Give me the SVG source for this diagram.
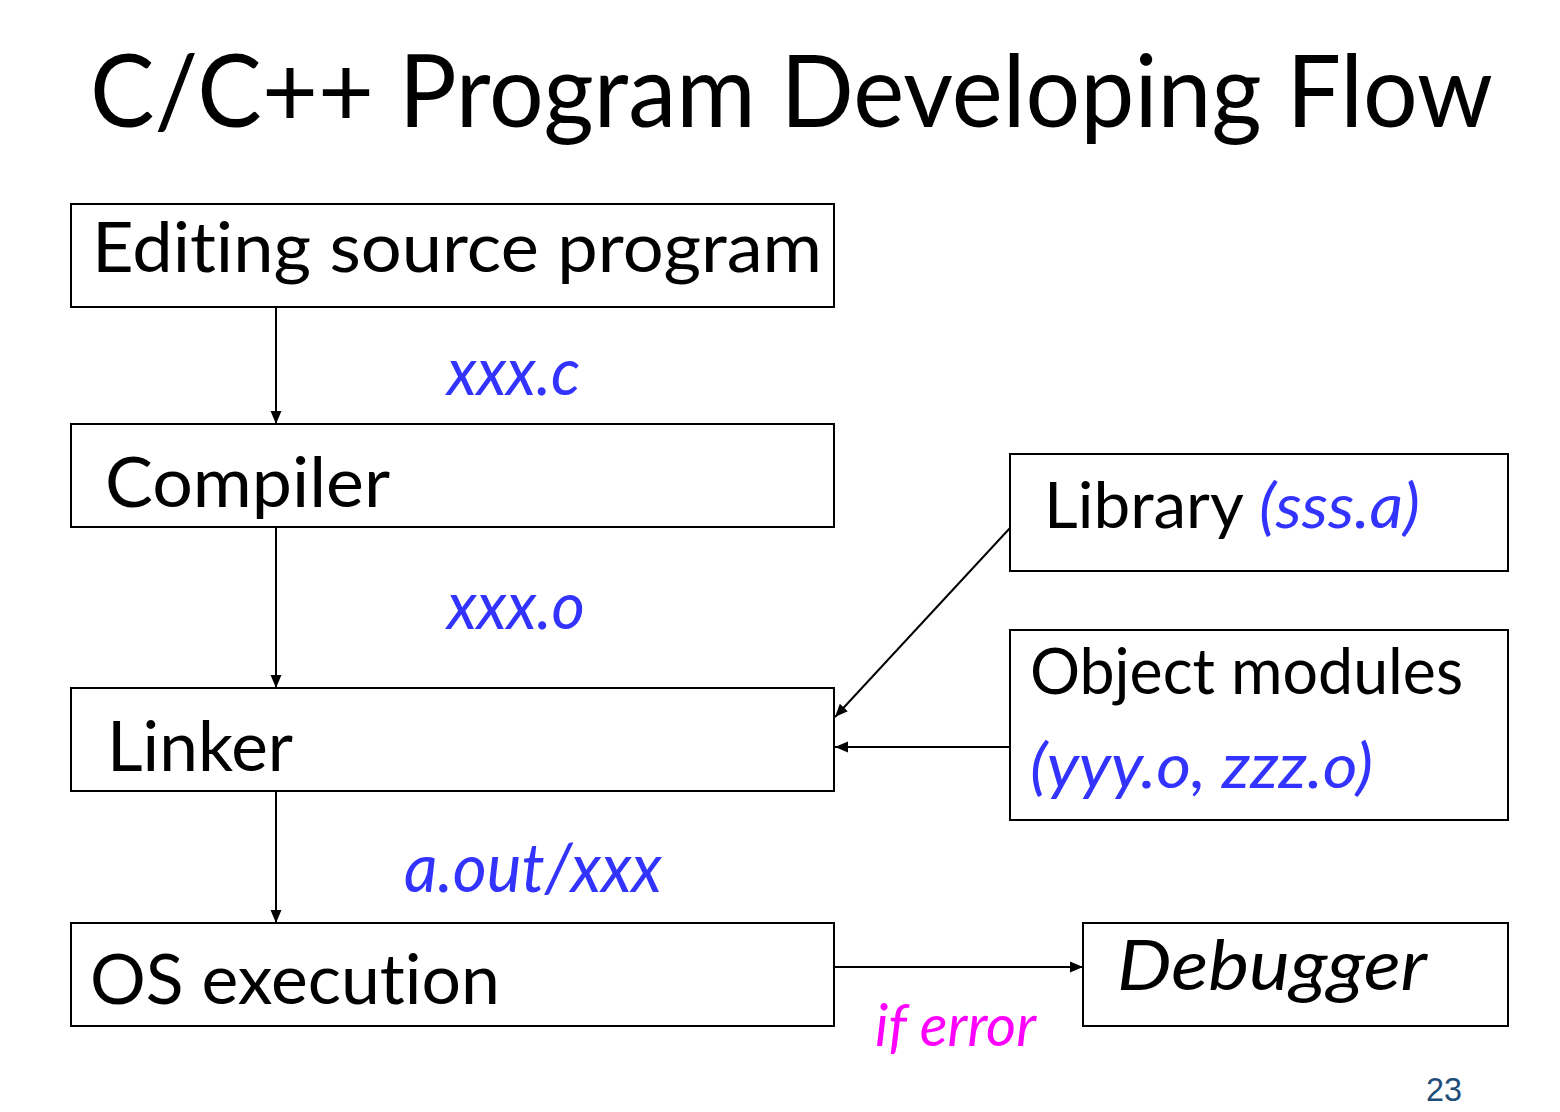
<svg xmlns="http://www.w3.org/2000/svg" width="1560" height="1112" viewBox="0 0 1560 1112">
<style>
text{font-variant-ligatures:none;font-feature-settings:"liga" 0,"clig" 0}
.box{fill:#fff;stroke:#000;stroke-width:2}
.t{font-family:Lato,"Open Sans","Liberation Sans",sans-serif;fill:#000}
.lbl{font-family:Lato,"Open Sans","Liberation Sans",sans-serif;font-style:italic;fill:#3333FF}
.con{stroke:#000;stroke-width:2;fill:none;marker-end:url(#ah)}
</style>
<defs>
<marker id="ah" viewBox="0 0 10 10" refX="10" refY="5" markerWidth="13" markerHeight="13" markerUnits="userSpaceOnUse" orient="auto">
<path d="M0,0.8 L10,5 L0,9.2 Z" fill="#000"/>
</marker>
</defs>
<rect width="1560" height="1112" fill="#fff"/>
<text id="title" class="t" x="90" y="127" font-size="100" textLength="1403" lengthAdjust="spacingAndGlyphs">C/C++ Program Developing Flow</text>
<g id="connectors">
<line class="con" x1="276" y1="307" x2="276" y2="424"/>
<line class="con" x1="276" y1="527" x2="276" y2="688"/>
<line class="con" x1="276" y1="791" x2="276" y2="923"/>
<line class="con" x1="1010" y1="528" x2="835" y2="717"/>
<line class="con" x1="1010" y1="747" x2="835" y2="747"/>
<line class="con" x1="834" y1="967" x2="1083" y2="967"/>
<text class="lbl" x="447" y="395" font-size="66" textLength="133" lengthAdjust="spacingAndGlyphs">xxx.c</text>
<text class="lbl" x="447" y="629" font-size="66" textLength="138" lengthAdjust="spacingAndGlyphs">xxx.o</text>
<text class="lbl" x="404" y="892" font-size="68" textLength="258" lengthAdjust="spacingAndGlyphs">a.out/xxx</text>
<text class="lbl" x="875" y="1046" font-size="58" textLength="161" lengthAdjust="spacingAndGlyphs" style="fill:#FF00FF">if error</text>
</g>
<g id="edit">
<rect class="box" x="71" y="204" width="763" height="103"/>
<text class="t" x="92" y="272" font-size="70" textLength="730" lengthAdjust="spacingAndGlyphs">Editing source program</text>
</g>
<g id="compiler">
<rect class="box" x="71" y="424" width="763" height="103"/>
<text class="t" x="105" y="507" font-size="70" textLength="285" lengthAdjust="spacingAndGlyphs">Compiler</text>
</g>
<g id="linker">
<rect class="box" x="71" y="688" width="763" height="103"/>
<text class="t" x="107" y="771" font-size="70" textLength="186" lengthAdjust="spacingAndGlyphs">Linker</text>
</g>
<g id="os">
<rect class="box" x="71" y="923" width="763" height="103"/>
<text class="t" x="90" y="1004" font-size="70" textLength="410" lengthAdjust="spacingAndGlyphs">OS execution</text>
</g>
<g id="library">
<rect class="box" x="1010" y="454" width="498" height="117"/>
<text class="t" x="1044" y="528" font-size="63" textLength="376" lengthAdjust="spacingAndGlyphs">Library <tspan style="font-style:italic;fill:#3333FF">(sss.a)</tspan></text>
</g>
<g id="objects">
<rect class="box" x="1010" y="630" width="498" height="190"/>
<text class="t" x="1030" y="694" font-size="63" textLength="433" lengthAdjust="spacingAndGlyphs">Object modules</text>
<text class="lbl" x="1030" y="788" font-size="63" textLength="343" lengthAdjust="spacingAndGlyphs">(yyy.o, zzz.o)</text>
</g>
<g id="debugger">
<rect class="box" x="1083" y="923" width="425" height="103"/>
<text class="t" x="1117" y="990" font-size="70" font-style="italic" textLength="310" lengthAdjust="spacingAndGlyphs">Debugger</text>
</g>
<text id="page" x="1426" y="1101" font-family="'Liberation Sans',Arial,sans-serif" font-size="33" fill="#1F4E79" textLength="36" lengthAdjust="spacingAndGlyphs">23</text>
</svg>
